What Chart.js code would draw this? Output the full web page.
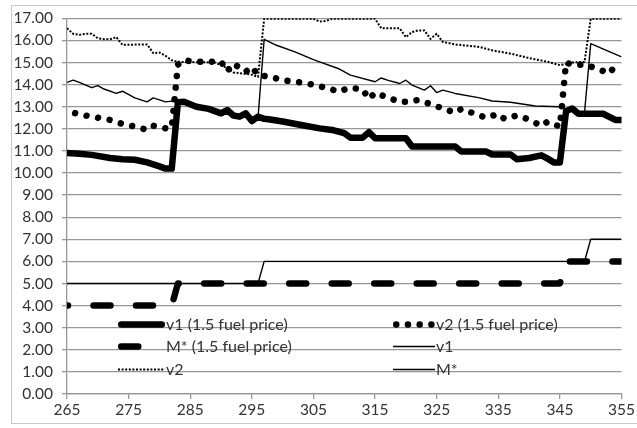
<!DOCTYPE html>
<html>
<head>
<meta charset="utf-8">
<script src="https://cdn.jsdelivr.net/npm/chart.js@4.4.1/dist/chart.umd.min.js"></script>
<style>
  html, body { margin: 0; padding: 0; background: #ffffff; }
  #wrap { width: 637px; height: 428px; position: relative; }
</style>
</head>
<body>
<div id="wrap"><canvas id="chart" width="637" height="428"></canvas></div>
<script>
// ---- data ----
const xTicks = [265, 275, 285, 295, 305, 315, 325, 335, 345, 355];

const v1FuelX = [265,267,269,272,274,276,278,280,281,282,283,284,286,288,290,291,292,293,294,295,296,297,298,300,303,306,308,310,311,313,314,315,320,321,328,329,333,334,337,338,340,342,343,344,345,346,347,348,352,354,355];
const v1FuelY = [10.9,10.87,10.82,10.68,10.62,10.6,10.48,10.3,10.2,10.2,13.2,13.22,13.0,12.9,12.7,12.85,12.6,12.55,12.7,12.35,12.55,12.45,12.42,12.33,12.17,12.02,11.95,11.8,11.6,11.6,11.85,11.57,11.57,11.2,11.2,10.97,10.97,10.84,10.84,10.62,10.68,10.8,10.65,10.48,10.48,12.8,12.92,12.68,12.68,12.4,12.4];

const v2FuelX = [266,268,270,272,274,276,278,279,281,282,283,284,286,288,290,291,292,294,295,296,298,300,302,304,306,308,309,311,313,314,315,317,319,320,322,324,326,328,329,331,333,335,336,338,340,342,343,345,346,347,349,351,353,354,355];
const v2FuelY = [12.73,12.6,12.5,12.4,12.22,12.1,11.95,12.14,12.02,12.05,14.9,15.1,15.03,15.03,15.05,14.6,14.95,14.58,14.8,14.43,14.35,14.2,14.13,14.05,13.93,13.78,13.68,13.86,13.78,13.35,13.63,13.42,13.22,13.22,13.3,13.12,12.92,12.73,12.9,12.7,12.5,12.67,12.45,12.6,12.42,12.13,12.32,12.1,15.0,14.9,14.9,14.73,14.5,14.85,14.85];

const mFuelX = [265,282,283,345,346,355];
const mFuelY = [4,4,5,5,6,6];

const v1X = [265,266,267,269,270,271,273,274,276,278,279,281,282,284,286,288,290,292,294,296,297,299,302,305,306,309,311,315,316,317,319,320,321,323,324,325,326,328,332,334,337,341,345,346,348,349,350,355];
const v1Y = [14.1,14.2,14.1,13.86,13.95,13.8,13.6,13.7,13.4,13.22,13.4,13.22,13.25,13.15,13.0,12.9,12.75,12.65,12.6,12.5,16.05,15.78,15.48,15.13,15.03,14.73,14.43,14.13,14.3,14.2,14.05,14.2,13.98,13.75,13.95,13.64,13.75,13.6,13.4,13.26,13.2,13.03,13.0,12.9,12.75,12.75,15.85,15.25];

const v2X = [265,266,267,268,269,270,271,272,273,274,278,279,280,281,282,283,289,291,292,295,296,297,305,306,307,308,315,316,319,320,321,322,323,324,325,326,328,332,334,337,340,343,345,347,349,350,355];
const v2Y = [16.55,16.3,16.25,16.3,16.3,16.1,16.05,16.05,16.15,15.8,15.82,15.42,15.45,15.3,15.1,15.03,15.0,14.75,14.55,14.45,14.35,16.98,16.98,16.85,16.88,16.98,16.98,16.55,16.55,16.15,16.38,16.45,16.45,16.07,16.3,15.93,15.82,15.7,15.55,15.4,15.2,15.03,14.88,15.0,15.03,16.98,16.98];

const mX = [265,296,297,349,350,355];
const mY = [5,5,6,6,7,7];

const seriesNames = ['v1 (1.5 fuel price)', 'v2 (1.5 fuel price)', 'M* (1.5 fuel price)', 'v1', 'v2', 'M*'];

// ---- helpers ----
const pts = (xs, ys) => xs.map((x, i) => ({ x: x, y: ys[i] }));
const FONT = 'Lato, "Open Sans", sans-serif';
const TEXT = '#333333';
const GRID = '#969696';

const styles = [
  { borderWidth: 6.5, borderDash: [], borderCapStyle: 'round' },
  { borderWidth: 6.5, borderDash: [0.01, 11.7], borderDashOffset: 9.7, borderCapStyle: 'round' },
  { borderWidth: 6.5, borderDash: [17, 25.5], borderDashOffset: 16, borderCapStyle: 'round' },
  { borderWidth: 1.4, borderDash: [], borderCapStyle: 'butt' },
  { borderWidth: 2, borderDash: [2, 1.6], borderCapStyle: 'butt' },
  { borderWidth: 1.4, borderDash: [], borderCapStyle: 'butt' }
];
const seriesData = [
  pts(v1FuelX, v1FuelY), pts(v2FuelX, v2FuelY), pts(mFuelX, mFuelY),
  pts(v1X, v1Y), pts(v2X, v2Y), pts(mX, mY)
];

const datasets = seriesNames.map((name, i) => Object.assign({
  label: name,
  data: seriesData[i],
  borderColor: '#000000',
  backgroundColor: '#000000',
  borderJoinStyle: 'round',
  pointRadius: 0,
  pointHoverRadius: 0,
  tension: 0,
  fill: false,
  order: 5 - i
}, styles[i]));

// Outer frame and white background
const framePlugin = {
  id: 'frame',
  beforeDraw(chart) {
    const ctx = chart.ctx;
    ctx.save();
    ctx.fillStyle = '#ffffff';
    ctx.fillRect(0, 0, chart.width, chart.height);
    ctx.strokeStyle = '#c8c8c8';
    ctx.lineWidth = 1;
    ctx.strokeRect(11.5, 5.5, chart.width, chart.height - 10);
    ctx.restore();
  }
};

// Two-column legend drawn inside the plot area
const legendSlots = [
  { col: 0, row: 0 }, { col: 1, row: 0 },
  { col: 0, row: 1 }, { col: 1, row: 1 },
  { col: 0, row: 2 }, { col: 1, row: 2 }
];
const insideLegend = {
  id: 'insideLegend',
  afterDatasetsDraw(chart) {
    const ctx = chart.ctx;
    const colX = [118, 393];
    const sampleLen = [47, 42];
    const rowY = [324.5, 346.5, 369.5];
    ctx.save();
    ctx.font = '16px ' + FONT;
    ctx.textBaseline = 'middle';
    ctx.textAlign = 'left';
    chart.data.datasets.forEach((ds, i) => {
      const slot = legendSlots[i];
      const x0 = colX[slot.col];
      const len = sampleLen[slot.col];
      const y = rowY[slot.row];
      ctx.strokeStyle = ds.borderColor;
      ctx.lineWidth = ds.borderWidth;
      ctx.lineCap = ds.borderCapStyle;
      ctx.setLineDash(ds.borderDash || []);
      ctx.lineDashOffset = 0;
      const inset = ds.borderCapStyle === 'round' ? ds.borderWidth / 2 : 0;
      ctx.beginPath();
      ctx.moveTo(x0 + inset, y);
      ctx.lineTo(x0 + len - inset, y);
      ctx.stroke();
      ctx.setLineDash([]);
      ctx.fillStyle = TEXT;
      ctx.fillText(ds.label, x0 + len + 1, y + 0.5);
    });
    ctx.restore();
  }
};

new Chart(document.getElementById('chart'), {
  type: 'line',
  data: { datasets: datasets },
  plugins: [framePlugin, insideLegend],
  options: {
    responsive: false,
    animation: false,
    devicePixelRatio: 1,
    events: [],
    layout: { padding: { left: 0, top: 16, right: 13, bottom: 0 } },
    plugins: {
      legend: { display: false },
      tooltip: { enabled: false },
      title: { display: false }
    },
    scales: {
      x: {
        type: 'linear',
        min: 265,
        max: 355,
        afterBuildTicks(scale) { scale.ticks = xTicks.map(v => ({ value: v })); },
        afterFit(scale) { scale.height = 34; },
        grid: { display: true, drawOnChartArea: false, drawTicks: true, tickLength: 5, color: GRID, lineWidth: 1.3 },
        border: { display: true, color: GRID, width: 1.3 },
        ticks: { color: TEXT, font: { family: FONT, size: 15.5 }, padding: 2, maxRotation: 0, autoSkip: false }
      },
      y: {
        min: 0,
        max: 17,
        afterFit(scale) { scale.width = 67; },
        grid: { color: GRID, lineWidth: 1.3, drawTicks: true, tickLength: 5 },
        border: { display: true, color: GRID, width: 1.3 },
        ticks: {
          stepSize: 1,
          color: TEXT,
          font: { family: FONT, size: 15.5 },
          padding: 9,
          callback: v => Number(v).toFixed(2)
        }
      }
    }
  }
});
</script>
</body>
</html>
